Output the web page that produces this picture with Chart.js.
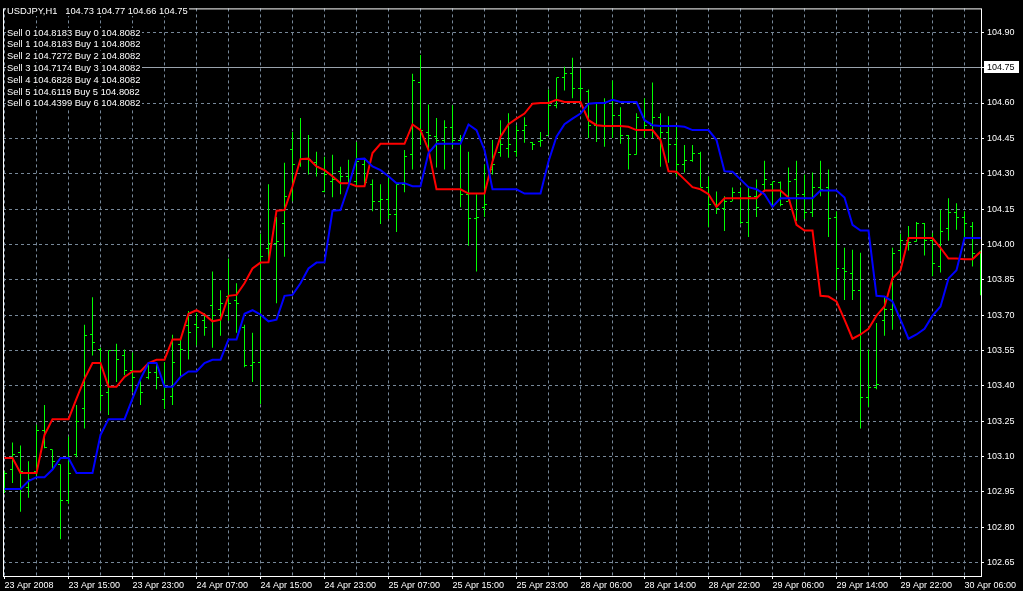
<!DOCTYPE html>
<html><head><meta charset="utf-8">
<script src="https://cdn.jsdelivr.net/npm/chart.js@4.4.1/dist/chart.umd.min.js"></script>
<style>html,body{margin:0;padding:0;background:#000;overflow:hidden}canvas{display:block}</style>
</head><body>
<canvas id="c" width="1023" height="591"></canvas>
<script>
// ---- data ----
const symbolTitle = 'USDJPY,H1';
const headerPrices = [104.73, 104.77, 104.66, 104.75];
const sellLevels = [104.8183, 104.8183, 104.7272, 104.7174, 104.6828, 104.6119, 104.4399];
const buyLevels  = [104.8082, 104.8082, 104.8082, 104.8082, 104.8082, 104.8082, 104.8082];
const bidPrice = 104.75;

const xGridBars  = [0,4,8,12,16,20,24,28,32,36,40,44,48,52,56,60,64,68,72,76,80,84,88,92,96,100,104,108,112,116,120];
const xLabelBars = [0,8,16,24,32,40,48,56,64,72,80,88,96,104,112,120];
const xTickLabels = ['23 Apr 2008','23 Apr 15:00','23 Apr 23:00','24 Apr 07:00','24 Apr 15:00','24 Apr 23:00','25 Apr 07:00','25 Apr 15:00','25 Apr 23:00','28 Apr 06:00','28 Apr 14:00','28 Apr 22:00','29 Apr 06:00','29 Apr 14:00','29 Apr 22:00','30 Apr 06:00'];
const yTickValues = [102.65,102.80,102.95,103.10,103.25,103.40,103.55,103.70,103.85,104.00,104.15,104.30,104.45,104.60,104.75,104.90];

const opens = [102.963,103.047,103.118,102.967,103.038,103.210,103.130,103.068,102.912,103.110,
103.302,103.617,103.554,103.374,103.550,103.529,103.466,103.416,103.437,103.458,
103.344,103.357,103.575,103.655,103.659,103.676,103.739,103.722,103.781,103.764,
103.646,103.487,103.500,103.982,104.003,104.087,104.401,104.339,104.359,104.347,
104.225,104.267,104.309,104.288,104.267,104.339,104.255,104.183,104.192,104.129,
104.255,104.380,104.687,104.477,104.456,104.443,104.498,104.443,104.213,104.108,
104.158,104.318,104.389,104.406,104.393,104.485,104.431,104.435,104.464,104.590,
104.708,104.724,104.662,104.649,104.506,104.603,104.506,104.548,104.464,104.380,
104.540,104.506,104.540,104.477,104.422,104.339,104.355,104.385,104.242,104.171,
104.154,104.183,104.221,104.095,104.204,104.255,104.255,104.263,104.183,104.276,
104.213,104.137,104.242,104.242,104.116,103.898,103.877,103.806,103.349,103.395,
103.676,103.726,103.974,104.016,104.011,104.087,104.016,103.906,104.066,104.137,
104.116,104.078,103.961];
const highs = [103.038,103.160,103.147,103.080,103.235,103.319,103.130,103.068,103.185,103.319,
103.659,103.776,103.562,103.550,103.579,103.554,103.542,103.428,103.500,103.500,
103.500,103.617,103.604,103.718,103.709,103.709,103.885,103.806,103.940,103.835,
103.659,103.625,104.045,104.255,104.116,104.347,104.477,104.536,104.464,104.393,
104.372,104.380,104.330,104.359,104.435,104.359,104.276,104.255,104.284,104.255,
104.401,104.724,104.804,104.594,104.536,104.527,104.590,104.464,104.393,104.213,
104.339,104.443,104.527,104.557,104.506,104.540,104.435,104.477,104.657,104.708,
104.754,104.792,104.745,104.657,104.603,104.620,104.695,104.582,104.464,104.557,
104.620,104.687,104.557,104.544,104.498,104.422,104.422,104.393,104.288,104.225,
104.204,104.242,104.242,104.242,104.276,104.355,104.267,104.267,104.326,104.355,
104.297,104.305,104.355,104.318,104.141,103.986,103.978,103.965,103.554,103.667,
103.781,103.986,104.045,104.078,104.095,104.091,104.049,104.146,104.196,104.175,
104.141,104.095,103.974];
const lows = [102.946,102.988,102.866,102.925,103.017,103.135,103.047,102.749,102.900,103.097,
103.219,103.529,103.294,103.277,103.416,103.445,103.374,103.319,103.428,103.386,
103.302,103.319,103.437,103.512,103.571,103.613,103.562,103.613,103.676,103.625,
103.479,103.416,103.323,103.927,103.751,103.948,104.183,104.330,104.297,104.288,
104.221,104.200,104.213,104.246,104.242,104.246,104.141,104.087,104.108,104.053,
104.221,104.318,104.422,104.389,104.326,104.318,104.410,104.158,103.995,103.885,
104.116,104.297,104.372,104.368,104.372,104.431,104.401,104.414,104.464,104.578,
104.653,104.620,104.611,104.452,104.435,104.414,104.452,104.427,104.318,104.380,
104.452,104.452,104.330,104.347,104.288,104.305,104.351,104.242,104.074,104.129,
104.057,104.183,104.087,104.032,104.116,104.225,104.158,104.162,104.183,104.099,
104.108,104.116,104.204,104.032,103.806,103.764,103.764,103.219,103.311,103.386,
103.613,103.638,103.932,103.974,104.011,103.953,103.865,103.881,104.016,104.062,
104.032,103.906,103.785];
const closes = [103.030,103.110,103.038,103.005,103.210,103.139,103.080,102.912,103.030,103.248,
103.613,103.583,103.361,103.550,103.512,103.466,103.437,103.374,103.458,103.437,
103.395,103.500,103.554,103.625,103.646,103.646,103.697,103.751,103.751,103.751,
103.487,103.500,103.948,104.003,104.011,104.204,104.339,104.359,104.359,104.330,
104.297,104.276,104.288,104.267,104.351,104.263,104.183,104.192,104.129,104.255,
104.372,104.695,104.485,104.464,104.443,104.498,104.443,104.213,104.108,104.116,
104.171,104.339,104.422,104.422,104.485,104.506,104.422,104.443,104.590,104.708,
104.724,104.662,104.662,104.506,104.603,104.506,104.548,104.464,104.380,104.540,
104.506,104.540,104.477,104.422,104.339,104.355,104.385,104.242,104.171,104.154,
104.183,104.221,104.095,104.204,104.158,104.276,104.267,104.171,104.267,104.213,
104.137,104.242,104.234,104.108,103.898,103.885,103.806,103.349,103.395,103.407,
103.726,103.961,104.016,104.007,104.087,104.016,103.919,104.057,104.137,104.116,
104.087,103.961,103.919];
const redLine = [103.094,103.094,103.031,103.031,103.031,103.192,103.259,103.259,103.259,103.346,
103.430,103.497,103.497,103.396,103.396,103.438,103.461,103.461,103.497,103.511,
103.511,103.597,103.597,103.706,103.721,103.702,103.674,103.681,103.782,103.786,
103.835,103.898,103.923,103.924,104.143,104.146,104.247,104.362,104.364,104.331,
104.315,104.289,104.260,104.260,104.247,104.247,104.388,104.427,104.427,104.427,
104.427,104.509,104.485,104.401,104.234,104.234,104.234,104.234,104.216,104.216,
104.216,104.352,104.457,104.510,104.534,104.555,104.597,104.600,104.600,104.614,
104.604,104.604,104.604,104.527,104.506,104.502,104.502,104.502,104.499,104.485,
104.485,104.485,104.443,104.310,104.308,104.276,104.243,104.234,104.213,104.159,
104.196,104.196,104.196,104.196,104.196,104.229,104.229,104.229,104.199,104.083,
104.059,104.059,103.782,103.779,103.758,103.681,103.600,103.618,103.642,103.698,
103.737,103.856,103.891,104.027,104.027,104.027,104.027,103.986,103.940,103.940,
103.937,103.937,103.969];
const blueLine = [102.963,102.963,102.963,102.996,103.013,103.013,103.045,
103.094,103.094,103.031,103.031,103.031,103.192,103.259,103.259,103.259,103.346,
103.430,103.497,103.497,103.396,103.396,103.438,103.461,103.461,103.497,103.511,
103.511,103.597,103.597,103.706,103.721,103.702,103.674,103.681,103.782,103.786,
103.835,103.898,103.923,103.924,104.143,104.146,104.247,104.362,104.364,104.331,
104.315,104.289,104.260,104.260,104.247,104.247,104.388,104.427,104.427,104.427,
104.427,104.509,104.485,104.401,104.234,104.234,104.234,104.234,104.216,104.216,
104.216,104.352,104.457,104.510,104.534,104.555,104.597,104.600,104.600,104.614,
104.604,104.604,104.604,104.527,104.506,104.502,104.502,104.502,104.499,104.485,
104.485,104.485,104.443,104.310,104.308,104.276,104.243,104.234,104.213,104.159,
104.196,104.196,104.196,104.196,104.196,104.229,104.229,104.229,104.199,104.083,
104.059,104.059,103.782,103.779,103.758,103.681,103.600,103.618,103.642,103.698,
103.737,103.856,103.891,104.027,104.027,104.027];

// ---- styling ----
const FONT = "'Liberation Sans', Arial, sans-serif";
const GRID = '#778899';
const GREEN = '#00ff00';

const ohlcTicks = {
  id: 'ohlcTicks',
  afterDatasetDraw(chart, args) {
    if (args.meta.type !== 'bar') return;
    const ctx = chart.ctx, xs = chart.scales.x, ys = chart.scales.y, a = chart.chartArea;
    ctx.save();
    ctx.beginPath(); ctx.rect(a.left, a.top, a.right - a.left, a.bottom - a.top); ctx.clip();
    ctx.fillStyle = GREEN;
    for (let i = 0; i < opens.length; i++) {
      const x = Math.round(xs.getPixelForValue(i) - 0.5);
      const yo = Math.round(ys.getPixelForValue(opens[i]) - 0.5);
      const yc = Math.round(ys.getPixelForValue(closes[i]) - 0.5);
      ctx.fillRect(x - 2, yo, 2, 1);
      ctx.fillRect(x + 1, yc, 2, 1);
    }
    ctx.restore();
  }
};

const bidLine = {
  id: 'bidLine',
  beforeDatasetsDraw(chart) {
    const ctx = chart.ctx, ys = chart.scales.y, a = chart.chartArea;
    const y = Math.round(ys.getPixelForValue(bidPrice) - 0.5) + 0.5;
    ctx.save();
    ctx.strokeStyle = '#9aa3ad'; ctx.lineWidth = 1;
    ctx.beginPath(); ctx.moveTo(a.left, y); ctx.lineTo(a.right, y); ctx.stroke();
    ctx.restore();
  },
  afterDraw(chart) {
    const ctx = chart.ctx, ys = chart.scales.y, a = chart.chartArea;
    const y = Math.round(ys.getPixelForValue(bidPrice) - 0.5);
    ctx.save();
    ctx.strokeStyle = '#ffffff'; ctx.lineWidth = 1;
    ctx.strokeRect(a.left + 0.5, a.top + 0.5, a.right - a.left, a.bottom - a.top);
    ctx.fillStyle = '#ffffff';
    ctx.fillRect(a.right + 3, y - 6, 35, 12);
    ctx.fillStyle = '#000000';
    ctx.font = '9px ' + FONT; ctx.textBaseline = 'middle'; ctx.textAlign = 'left';
    ctx.fillText(bidPrice.toFixed(2), a.right + 6, y + 0.5);
    ctx.font = '9.4px ' + FONT; ctx.textBaseline = 'alphabetic';
    const lines = [[symbolTitle + '   ' + headerPrices.map(v => v.toFixed(2)).join(' '), 14]];
    sellLevels.forEach((s, k) => {
      lines.push(['Sell ' + k + ' ' + s.toFixed(4) + ' Buy ' + k + ' ' + buyLevels[k].toFixed(4), 35.7 + 11.78 * k]);
    });
    lines.forEach(([t, by]) => {
      const w = ctx.measureText(t).width;
      ctx.fillStyle = '#000000';
      ctx.fillRect(6, Math.round(by) - 8, Math.ceil(w) + 2, 10);
      ctx.fillStyle = '#ffffff';
      ctx.fillText(t, 7, Math.round(by));
    });
    ctx.restore();
  }
};

new Chart(document.getElementById('c'), {
  type: 'line',
  data: {
    datasets: [
      { type: 'line', label: 'Blue', data: blueLine.map((v, i) => ({x: i, y: v})),
        borderColor: '#0000ff', borderWidth: 2, pointRadius: 0, tension: 0, order: 0 },
      { type: 'line', label: 'Red', data: redLine.map((v, i) => ({x: i, y: v})),
        borderColor: '#ff0000', borderWidth: 2, pointRadius: 0, tension: 0, order: 1 },
      { type: 'bar', label: 'Bars', data: highs.map((h, i) => ({x: i, y: [lows[i], h]})),
        backgroundColor: GREEN, borderWidth: 0, barThickness: 1, inflateAmount: 0, grouped: false, order: 3 }
    ]
  },
  options: {
    responsive: false, animation: false, devicePixelRatio: 1,
    layout: { padding: { left: 3, top: 2, right: 0, bottom: 0 } },
    plugins: { legend: { display: false }, tooltip: { enabled: false } },
    scales: {
      x: {
        type: 'linear', position: 'bottom', min: -0.1875, max: 122.0625, offset: false,
        afterBuildTicks: s => { s.ticks = xGridBars.map(v => ({ value: v })); },
        afterFit: s => { s.height = 15; },
        grid: { color: GRID, lineWidth: 1, offset: false, drawTicks: true, tickLength: 3, tickWidth: 1,
          tickBorderDash: [],
          tickColor: c => (c.tick && xLabelBars.indexOf(c.tick.value) >= 0) ? '#ffffff' : 'rgba(0,0,0,0)' },
        border: { display: false, dash: [3, 3] },
        ticks: { autoSkip: false, maxRotation: 0, minRotation: 0, align: 'start', padding: 1,
          color: '#ffffff', font: { family: FONT, size: 9 },
          callback: v => { const k = xLabelBars.indexOf(v); return k >= 0 ? xTickLabels[k] : ''; } }
      },
      y: {
        type: 'linear', position: 'right', min: 102.5936, max: 105.0013,
        afterBuildTicks: s => { s.ticks = yTickValues.map(v => ({ value: v })); },
        afterFit: s => { s.width = 42; },
        grid: { color: GRID, lineWidth: 1, drawTicks: true, tickLength: 3, tickWidth: 1, tickColor: '#ffffff', tickBorderDash: [] },
        border: { display: false, dash: [3, 3] },
        ticks: { autoSkip: false, padding: 3, color: '#ffffff', font: { family: FONT, size: 9 },
          callback: v => Number(v).toFixed(2) }
      }
    }
  },
  plugins: [ohlcTicks, bidLine]
});
</script>
</body></html>
